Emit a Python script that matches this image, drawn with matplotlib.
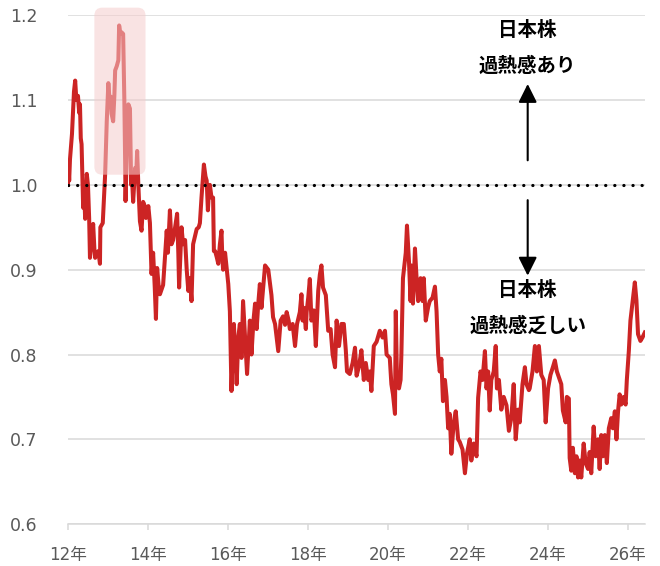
import matplotlib
matplotlib.use("Agg")
import matplotlib.pyplot as plt
from matplotlib.patches import FancyBboxPatch

plt.rcParams['font.family'] = ['DejaVu Sans', 'Noto Sans CJK JP']

# time in years (12 = 2012), value of the ratio
t = [12.00, 12.01, 12.03, 12.05, 12.10, 12.15, 12.18, 12.21, 12.25, 12.28,
     12.30, 12.32, 12.34, 12.38, 12.41, 12.43, 12.47, 12.50, 12.53, 12.55,
     12.58, 12.63, 12.66, 12.68, 12.72, 12.76, 12.80, 12.81, 12.87, 12.93,
     12.97, 13.01, 13.04, 13.07, 13.09, 13.13, 13.16, 13.18, 13.22, 13.26,
     13.28, 13.31, 13.34, 13.38, 13.41, 13.43, 13.44, 13.48, 13.51, 13.55,
     13.58, 13.60, 13.63, 13.68, 13.71, 13.73, 13.76, 13.80, 13.84, 13.88,
     13.92, 13.95, 14.01, 14.05, 14.09, 14.13, 14.17, 14.20, 14.23, 14.27,
     14.30, 14.38, 14.42, 14.47, 14.50, 14.55, 14.59, 14.63, 14.68, 14.73,
     14.76, 14.78, 14.84, 14.88, 14.93, 14.97, 15.01, 15.05, 15.09, 15.13,
     15.18, 15.22, 15.27, 15.30, 15.34, 15.40, 15.44, 15.47, 15.50, 15.53,
     15.55, 15.59, 15.63, 15.65, 15.68, 15.72, 15.76, 15.80, 15.84, 15.86,
     15.88, 15.93, 16.01, 16.05, 16.09, 16.12, 16.15, 16.22, 16.26, 16.30,
     16.34, 16.38, 16.43, 16.48, 16.55, 16.59, 16.64, 16.68, 16.72, 16.76,
     16.80, 16.84, 16.93, 17.01, 17.09, 17.13, 17.18, 17.22, 17.26, 17.32,
     17.38, 17.43, 17.47, 17.52, 17.55, 17.62, 17.68, 17.73, 17.80, 17.84,
     17.87, 17.90, 17.95, 17.97, 18.01, 18.05, 18.09, 18.15, 18.20, 18.26,
     18.30, 18.34, 18.38, 18.45, 18.51, 18.57, 18.62, 18.68, 18.72, 18.78,
     18.84, 18.90, 18.95, 18.98, 19.05, 19.12, 19.18, 19.22, 19.28, 19.34,
     19.40, 19.45, 19.51, 19.55, 19.59, 19.65, 19.72, 19.80, 19.87, 19.93,
     19.97, 20.05, 20.09, 20.13, 20.18, 20.20, 20.23, 20.28, 20.32, 20.34,
     20.38, 20.45, 20.48, 20.53, 20.57, 20.59, 20.63, 20.68, 20.72, 20.76,
     20.82, 20.87, 20.90, 20.95, 21.01, 21.05, 21.12, 21.18, 21.22, 21.26,
     21.30, 21.34, 21.38, 21.43, 21.47, 21.51, 21.55, 21.59, 21.65, 21.70,
     21.76, 21.80, 21.87, 21.93, 21.98, 22.05, 22.09, 22.15, 22.22, 22.26,
     22.32, 22.37, 22.43, 22.47, 22.51, 22.55, 22.59, 22.65, 22.70, 22.73,
     22.78, 22.84, 22.90, 22.97, 23.03, 23.09, 23.15, 23.20, 23.26, 23.30,
     23.37, 23.43, 23.47, 23.53, 23.55, 23.62, 23.68, 23.73, 23.78, 23.84,
     23.90, 23.95, 24.01, 24.07, 24.13, 24.18, 24.23, 24.28, 24.34, 24.38,
     24.45, 24.48, 24.53, 24.55, 24.59, 24.63, 24.68, 24.72, 24.76, 24.80,
     24.84, 24.90, 24.95, 25.01, 25.05, 25.09, 25.15, 25.20, 25.26, 25.30,
     25.34, 25.38, 25.43, 25.48, 25.53, 25.59, 25.63, 25.68, 25.72, 25.76,
     25.80, 25.84, 25.90, 25.95, 25.98, 26.03, 26.07, 26.12, 26.18, 26.22,
     26.26, 26.32, 26.37, 26.43]
v = [1.000, 1.026, 1.005, 1.030, 1.060, 1.110, 1.123, 1.100, 1.105, 1.085,
     1.095, 1.055, 1.048, 0.973, 0.985, 0.960, 1.013, 1.000, 0.960, 0.914,
     0.930, 0.954, 0.925, 0.914, 0.920, 0.922, 0.907, 0.950, 0.955, 1.013,
     1.075, 1.120, 1.100, 1.104, 1.084, 1.075, 1.105, 1.135, 1.140, 1.147,
     1.188, 1.178, 1.180, 1.178, 1.100, 1.028, 0.981, 1.060, 1.095, 1.090,
     1.000, 1.010, 0.980, 1.020, 1.015, 1.040, 1.000, 0.957, 0.946, 0.980,
     0.975, 0.961, 0.975, 0.955, 0.895, 0.920, 0.880, 0.842, 0.902, 0.880,
     0.871, 0.882, 0.910, 0.946, 0.920, 0.970, 0.930, 0.935, 0.950, 0.966,
     0.920, 0.879, 0.950, 0.930, 0.935, 0.900, 0.875, 0.890, 0.863, 0.930,
     0.940, 0.948, 0.950, 0.955, 0.985, 1.024, 1.010, 1.005, 0.970, 0.995,
     1.000, 0.985, 0.985, 0.922, 0.922, 0.915, 0.907, 0.930, 0.946, 0.915,
     0.900, 0.920, 0.883, 0.851, 0.757, 0.800, 0.836, 0.765, 0.820, 0.836,
     0.796, 0.863, 0.820, 0.777, 0.840, 0.800, 0.840, 0.860, 0.830, 0.860,
     0.883, 0.855, 0.905, 0.900, 0.870, 0.844, 0.836, 0.820, 0.804, 0.840,
     0.845, 0.835, 0.850, 0.840, 0.830, 0.836, 0.810, 0.836, 0.850, 0.871,
     0.840, 0.855, 0.830, 0.850, 0.867, 0.889, 0.840, 0.852, 0.810, 0.875,
     0.894, 0.905, 0.879, 0.870, 0.828, 0.830, 0.800, 0.785, 0.840, 0.810,
     0.836, 0.836, 0.805, 0.780, 0.777, 0.790, 0.808, 0.775, 0.786, 0.805,
     0.770, 0.790, 0.770, 0.780, 0.757, 0.810, 0.815, 0.828, 0.820, 0.828,
     0.800, 0.796, 0.765, 0.753, 0.730, 0.851, 0.770, 0.760, 0.770, 0.800,
     0.890, 0.920, 0.952, 0.910, 0.863, 0.905, 0.860, 0.925, 0.890, 0.863,
     0.890, 0.863, 0.890, 0.840, 0.856, 0.863, 0.867, 0.880, 0.851, 0.800,
     0.780, 0.795, 0.745, 0.770, 0.750, 0.713, 0.730, 0.683, 0.720, 0.733,
     0.700, 0.697, 0.688, 0.660, 0.683, 0.700, 0.675, 0.695, 0.680, 0.749,
     0.780, 0.770, 0.804, 0.760, 0.780, 0.734, 0.770, 0.780, 0.810, 0.760,
     0.770, 0.735, 0.750, 0.740, 0.710, 0.725, 0.765, 0.700, 0.735, 0.720,
     0.765, 0.785, 0.765, 0.758, 0.760, 0.780, 0.810, 0.780, 0.810, 0.776,
     0.770, 0.720, 0.760, 0.776, 0.785, 0.793, 0.780, 0.773, 0.765, 0.734,
     0.720, 0.750, 0.748, 0.678, 0.663, 0.690, 0.660, 0.680, 0.655, 0.675,
     0.655, 0.695, 0.672, 0.665, 0.685, 0.660, 0.715, 0.680, 0.700, 0.665,
     0.705, 0.680, 0.705, 0.672, 0.713, 0.725, 0.713, 0.733, 0.700, 0.733,
     0.753, 0.741, 0.750, 0.741, 0.770, 0.804, 0.840, 0.860, 0.885, 0.864,
     0.824, 0.816, 0.820, 0.826]

xticks = [12, 14, 16, 18, 20, 22, 24, 26]
xticklabels = ["12年", "14年", "16年", "18年", "20年", "22年", "24年", "26年"]
yticks = [0.6, 0.7, 0.8, 0.9, 1.0, 1.1, 1.2]
yticklabels = ["0.6", "0.7", "0.8", "0.9", "1.0", "1.1", "1.2"]

fig = plt.figure(figsize=(6.6, 5.66), dpi=100)
ax = fig.add_axes([0.103, 0.074, 0.874, 0.899])

ax.plot(t, v, color="#cc2424", lw=2.9, zorder=2, solid_joinstyle="round")

# highlight box over the 2013 peak
box = FancyBboxPatch((12.66, 1.012), 1.28, 0.197,
                     boxstyle="round,pad=0,rounding_size=0.2",
                     mutation_aspect=0.047, facecolor="#f5cccc",
                     edgecolor="none", alpha=0.55, zorder=3, clip_on=False)
ax.add_patch(box)

# dotted line at 1.0
ax.axhline(1.0, color="black", lw=2.3, ls=(0, (0.05, 2.8)),
           dash_capstyle="round", zorder=4)

ax.set_xlim(12, 26.43)
ax.set_ylim(0.6, 1.2)
ax.set_yticks(yticks)
ax.set_yticklabels(yticklabels)
ax.set_xticks(xticks)
ax.set_xticklabels(xticklabels)
ax.grid(axis="y", color="#d9d9d9", lw=1.1, zorder=0)
ax.set_axisbelow(True)
for s in ["top", "right", "left"]:
    ax.spines[s].set_visible(False)
ax.spines["bottom"].set_color("#d9d9d9")
ax.spines["bottom"].set_linewidth(1.1)
ax.tick_params(axis="y", length=0, pad=22, labelsize=12.5, labelcolor="#595959")
ax.tick_params(axis="x", length=4, width=1.1, color="#d9d9d9", pad=12,
               labelsize=12, labelcolor="#595959")

# annotations
jp = ['Noto Sans CJK JP', 'DejaVu Sans']
ax.text(23.5, 1.182, "日本株", ha="center", va="center", fontsize=14,
        fontweight="bold", family=jp)
ax.text(23.5, 1.140, "過熱感あり", ha="center", va="center", fontsize=14,
        fontweight="bold", family=jp)
ax.annotate("", xy=(23.5, 1.119), xytext=(23.5, 1.029),
            arrowprops=dict(arrowstyle="-|>,head_length=0.8,head_width=0.4",
                            mutation_scale=14, color="black", lw=1.5,
                            shrinkA=0, shrinkB=0))
ax.annotate("", xy=(23.5, 0.893), xytext=(23.5, 0.982),
            arrowprops=dict(arrowstyle="-|>,head_length=0.8,head_width=0.4",
                            mutation_scale=14, color="black", lw=1.5,
                            shrinkA=0, shrinkB=0))
ax.text(23.5, 0.875, "日本株", ha="center", va="center", fontsize=14,
        fontweight="bold", family=jp)
ax.text(23.5, 0.833, "過熱感乏しい", ha="center", va="center", fontsize=14,
        fontweight="bold", family=jp)

fig.savefig("out.png", dpi=100)
